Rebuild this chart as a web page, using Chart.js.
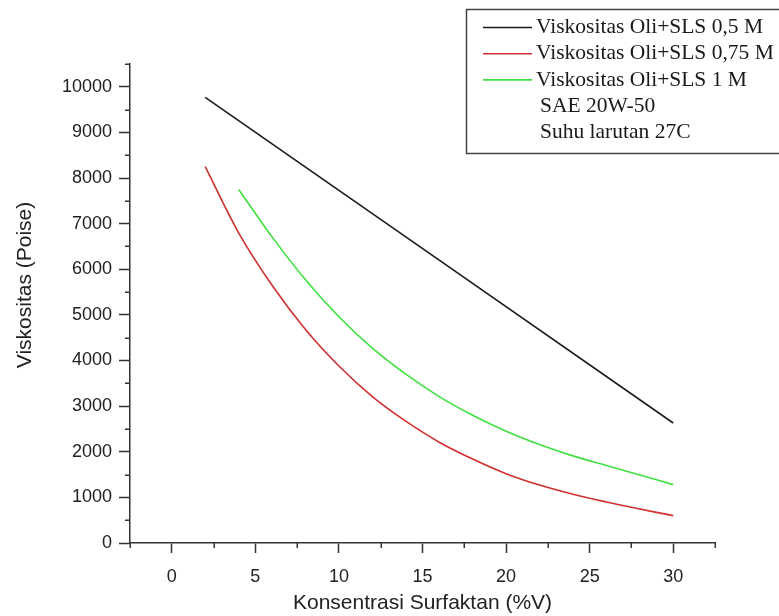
<!DOCTYPE html>
<html><head><meta charset="utf-8">
<script src="https://cdn.jsdelivr.net/npm/chart.js@4/dist/chart.umd.min.js"></script>
<style>html,body{margin:0;padding:0;background:#fff;} #wrap{width:779px;height:616px;}</style>
</head><body><div id="wrap"><canvas id="c" width="779" height="616"></canvas></div>
<script>
// ---- data ----
const seriesLabels = ['Viskositas Oli+SLS 0,5 M', 'Viskositas Oli+SLS 0,75 M', 'Viskositas Oli+SLS 1 M'];
const legendNotes = ['SAE 20W-50', 'Suhu larutan 27C'];
const xTitle = 'Konsentrasi Surfaktan (%V)';
const yTitle = 'Viskositas (Poise)';

const blackX = [2, 30];
const blackY = [9770, 2630];

const redX = [2, 4, 6, 8, 10, 12, 14, 16, 18, 20, 22, 24, 26, 28, 30];
const redY = [8250, 6800, 5650, 4680, 3880, 3210, 2670, 2210, 1840, 1520, 1270, 1070, 900, 745, 600];

const greenX = [4, 6, 8, 10, 12, 14, 16, 18, 20, 22, 24, 26, 28, 30];
const greenY = [7750, 6710, 5770, 4960, 4270, 3700, 3210, 2800, 2450, 2160, 1910, 1700, 1490, 1280];

const xMin = -2.5, xMax = 32.5, xStep = 2.5, xLabelEvery = 5;
const yMin = 0, yMax = 10500, yStep = 500, yLabelEvery = 1000;

const colors = ['#1a1a1a', '#d03030', '#3fe03f'];

const toPts = (xs, ys) => xs.map((x, i) => ({x: x, y: ys[i]}));

const sansFont = "'Liberation Sans', Arial, sans-serif";
const serifFont = "'Liberation Serif', 'Times New Roman', serif";
const axisColor = '#333';
const textColor = '#222';

const minorTicks = {
  id: 'minorTicks',
  afterDraw(chart) {
    const ctx = chart.ctx, ca = chart.chartArea;
    const xs = chart.scales.x, ys = chart.scales.y;
    ctx.save();
    ctx.strokeStyle = axisColor;
    ctx.lineWidth = 1.5;
    ctx.beginPath();
    xs.ticks.forEach(t => {
      if (Math.abs(t.value % xLabelEvery) > 1e-6) {
        const px = Math.round(xs.getPixelForValue(t.value)) + 0.25;
        ctx.moveTo(px, ca.bottom); ctx.lineTo(px, ca.bottom + 5);
      }
    });
    ys.ticks.forEach(t => {
      if (Math.abs(t.value % yLabelEvery) > 1e-6) {
        const py = Math.round(ys.getPixelForValue(t.value)) + 0.25;
        ctx.moveTo(ca.left, py); ctx.lineTo(ca.left - 5, py);
      }
    });
    ctx.stroke();

    // y axis title
    ctx.fillStyle = textColor;
    ctx.font = '21px ' + sansFont;
    ctx.textAlign = 'center';
    ctx.textBaseline = 'middle';
    ctx.translate(25, 285);
    ctx.rotate(-Math.PI / 2);
    ctx.fillText(yTitle, 0, 0);
    ctx.restore();
  }
};

const boxLegend = {
  id: 'boxLegend',
  afterDraw(chart) {
    const ctx = chart.ctx;
    ctx.save();
    ctx.strokeStyle = '#444';
    ctx.lineWidth = 1.5;
    ctx.strokeRect(466.5, 9.5, 340, 144);
    ctx.font = '21.5px ' + serifFont;
    ctx.textBaseline = 'middle';
    ctx.textAlign = 'left';
    ctx.fillStyle = '#1a1a1a';
    const rowY = i => 27.5 + i * 26.2;
    chart.data.datasets.forEach((ds, i) => {
      const y = rowY(i);
      ctx.strokeStyle = ds.borderColor;
      ctx.lineWidth = 1.6;
      ctx.beginPath(); ctx.moveTo(483, y); ctx.lineTo(532, y); ctx.stroke();
      ctx.fillText(ds.label, 536, y);
    });
    legendNotes.forEach((t, j) => {
      ctx.fillText(t, 540, rowY(chart.data.datasets.length + j));
    });
    ctx.restore();
  }
};

const lineDs = (label, pts, color) => ({
  label: label, data: pts, borderColor: color, backgroundColor: color,
  borderWidth: 1.6, pointRadius: 0, showLine: true, fill: false,
  tension: 0.35, cubicInterpolationMode: 'default'
});

new Chart(document.getElementById('c'), {
  type: 'scatter',
  data: {
    datasets: [
      lineDs(seriesLabels[0], toPts(blackX, blackY), colors[0]),
      lineDs(seriesLabels[1], toPts(redX, redY), colors[1]),
      lineDs(seriesLabels[2], toPts(greenX, greenY), colors[2])
    ]
  },
  options: {
    responsive: false,
    animation: false,
    devicePixelRatio: 1,
    layout: { padding: { left: 0, top: 64, right: 64, bottom: 0 } },
    plugins: { legend: { display: false }, tooltip: { enabled: false } },
    scales: {
      x: {
        type: 'linear', min: xMin, max: xMax,
        afterFit: s => { s.height = 73; },
        grid: {
          drawOnChartArea: false, drawTicks: true, tickLength: 10, tickWidth: 1.5,
          tickColor: c => (c.tick && Math.abs(c.tick.value % xLabelEvery) < 1e-6) ? axisColor : 'rgba(0,0,0,0)'
        },
        border: { display: true, color: axisColor, width: 1.5 },
        ticks: {
          stepSize: xStep, autoSkip: false, maxRotation: 0, padding: 13,
          color: textColor, font: { family: sansFont, size: 18 },
          callback: v => Math.abs(v % xLabelEvery) < 1e-6 ? String(Math.round(v)) : ''
        },
        title: { display: true, text: xTitle, color: textColor,
                 font: { family: sansFont, size: 21 }, padding: { top: 0, bottom: 0 } }
      },
      y: {
        type: 'linear', min: yMin, max: yMax,
        afterFit: s => { s.width = 130; },
        grid: {
          drawOnChartArea: false, drawTicks: true, tickLength: 11, tickWidth: 1.5,
          tickColor: c => (c.tick && Math.abs(c.tick.value % yLabelEvery) < 1e-6) ? axisColor : 'rgba(0,0,0,0)'
        },
        border: { display: true, color: axisColor, width: 1.5 },
        ticks: {
          stepSize: yStep, autoSkip: false, padding: 7,
          color: textColor, font: { family: sansFont, size: 18 },
          callback: v => Math.abs(v % yLabelEvery) < 1e-6 ? String(Math.round(v)) : ''
        }
      }
    }
  },
  plugins: [minorTicks, boxLegend]
});
</script>
</body></html>
